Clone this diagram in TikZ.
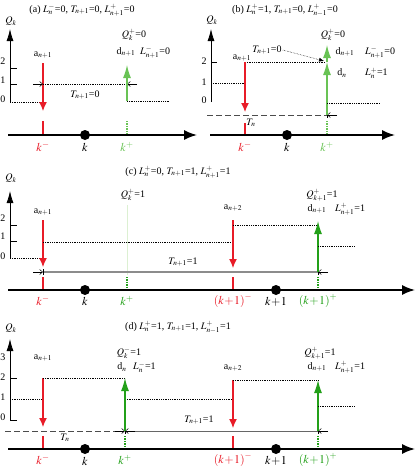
\documentclass[tikz,border=0pt]{standalone}
\usepackage{mathptmx}
\usepackage{fontspec}
\setmainfont{Liberation Serif}
\usetikzlibrary{arrows.meta}
\definecolor{kred}{RGB}{232,28,40}
\definecolor{kgreen}{RGB}{35,160,25}
\definecolor{lgreen}{RGB}{105,195,85}
\definecolor{pgreen}{RGB}{220,240,210}

\begin{document}
\begin{tikzpicture}[x=1pt, y=-1pt, font=\fontsize{10}{11}\selectfont,
  every node/.style={inner sep=1pt},
  qaxis/.style={-{Latex[length=12pt,width=7pt]}, line width=0.8pt},
  tline/.style={-{Latex[length=13pt,width=10pt]}, line width=1.6pt},
  lvl/.style={densely dotted, line width=0.8pt},
  tick/.style={line width=0.8pt},
  arrin/.style={-{Latex[length=9pt,width=8pt]}, line width=1.2pt, kred},
  arrout/.style={-{Latex[length=13pt,width=8pt]}, line width=1.2pt},
  stub/.style={line width=1.4pt, kred},
  gstub/.style={line width=1.4pt, densely dotted},
  barb/.style={-{Straight Barb[length=3pt,width=5pt]}, line width=0.5pt},
  bar/.style={line width=0.6pt},
  tn/.style={dash pattern=on 6pt off 3pt, line width=0.6pt, black!70},
  dot/.style={circle, fill, inner sep=0pt, minimum size=10pt},
  klab/.style={font=\fontsize{12}{13}\selectfont}
]
  \useasboundingbox (0,0) rectangle (415,471);

  \node (ta) at (82,10) {(a) $L^-_n$=0, $T_{n+1}$=0, $L^+_{n+1}$=0};
  \node (qa) at (11,21) {$Q_k$};
  \draw[qaxis] (10,102) -- (10,29);
  \draw[tick] (10,68) -- (17,68) (10,84) -- (17,84);
  \node at (3,61) {2}; \node at (3,80) {1}; \node at (3,99) {0};
  \draw[lvl] (10,102) -- (43,102);
  \draw[arrin] (43,63) -- (43,111);
  \draw[stub] (43,121) -- (43,134);
  \draw[lvl] (43,84) -- (127,84);
  \draw[barb] (33,84) -- (43,84);
  \draw[barb] (137,84) -- (127,84);
  \node (tna) at (85,95) {$T_{n+1}$=0};
  \draw[arrout, lgreen] (127,101) -- (127,65);
  \draw[gstub, lgreen] (127,121) -- (127,135);
  \draw[lvl] (127,101) -- (170,101);
  \draw[tline] (8,135) -- (197,135);
  \node[dot] (ka) at (85,135) {};
  \node (ana) at (43,55) {a$_{n+1}$};
  \node (qpa) at (134,35) {$Q^+_k$=0};
  \node (dna) at (126,52) {d$_{n+1}$};
  \node[anchor=west] (lna) at (139,52) {$L^-_{n+1}$=0};
  \node[klab, kred] at (43,147) {$k^-$};
  \node[klab] at (85,147) {$k$};
  \node[klab, lgreen] at (127,147) {$k^+$};

  \node (tb) at (285,10) {(b) $L^+_n$=1, $T_{n+1}$=0, $L^+_{n-1}$=0};
  \node (qb) at (212,20) {$Q_k$};
  \draw[qaxis] (211,102) -- (211,29);
  \draw[tick] (211,62) -- (217,62);
  \node at (204,61) {2}; \node at (204,82) {1}; \node at (204,100) {0};
  \draw[lvl] (211,83) -- (245,83);
  \draw[lvl] (245,62) -- (325,62);
  \draw[arrin] (245,62) -- (245,112);
  \draw[stub] (245,123) -- (245,135);
  \draw[tn] (207,115) -- (327,115);
  \draw[bar] (327,112) -- (327,118);
  \draw[barb] (337,115) -- (327,115);
  \node (tnb) at (251,123) {$T_n$};
  \draw[arrout, lgreen] (327,115) -- (327,62);
  \draw[arrout, lgreen] (327,62) -- (327,45);
  \draw[gstub, lgreen] (327,121) -- (327,135);
  \draw[lvl] (327,103) -- (380,103);
  \node (tn1b) at (267,50) {$T_{n+1}$=0};
  \coordinate (jb) at (324,61);
  \draw[-{Latex[length=5pt,width=4pt]}, densely dotted, line width=0.5pt] (tn1b.east) -- (jb);
  \draw[tline] (210,135) -- (395,135);
  \node[dot] (kb) at (287,135) {};
  \node (anb) at (242,58) {a$_{n+1}$};
  \node (qpb) at (333,35) {$Q^+_k$=0};
  \node (dnb) at (345,52) {d$_{n+1}$};
  \node[anchor=west] (lnb) at (364,52) {$L^-_{n+1}$=0};
  \node (dmb) at (342,73) {d$_n$};
  \node[anchor=west] (lmb) at (364,73) {$L^+_n$=1};
  \node[klab, kred] at (245,147) {$k^-$};
  \node[klab] at (287,147) {$k$};
  \node[klab, lgreen] at (327,147) {$k^+$};

  \node (tc) at (178,172) {(c) $L^+_n$=0, $T_{n+1}$=1, $L^+_{n+1}$=1};
  \node (qc) at (11,178) {$Q_k$};
  \draw[qaxis] (10,258) -- (10,191);
  \draw[tick] (10,225) -- (17,225) (10,241) -- (17,241);
  \node at (3,218) {2}; \node at (3,236) {1}; \node at (3,256) {0};
  \draw[lvl] (10,258) -- (43,258);
  \draw[arrin] (43,220) -- (43,267);
  \draw[stub] (43,277) -- (43,290);
  \draw[lvl] (43,242) -- (233,242);
  \draw[arrin] (233,220) -- (233,268);
  \draw[stub] (233,277) -- (233,290);
  \draw[lvl] (233,225) -- (318,225);
  \draw[pgreen, line width=0.6pt] (127,205) -- (127,275);
  \draw[gstub, kgreen] (127,277) -- (127,290);
  \draw[black!45, line width=1.6pt] (43,272) -- (318,272);
  \draw[bar] (43,269) -- (43,275) (318,269) -- (318,275);
  \draw[barb] (33,272) -- (43,272);
  \draw[barb] (328,272) -- (318,272);
  \node (tn1c) at (183,262) {$T_{n+1}$=1};
  \draw[arrout, kgreen] (318,272) -- (318,221);
  \draw[gstub, kgreen] (318,277) -- (318,290);
  \draw[lvl] (318,246) -- (355,246);
  \draw[tline] (8,290) -- (415,290);
  \node[dot] (kc) at (85,290) {};
  \node[dot] (k1c) at (276,290) {};
  \node (qpc) at (133,195) {$Q^+_k$=1};
  \node (anc) at (43,212) {a$_{n+1}$};
  \node (an2c) at (233,208) {a$_{n+2}$};
  \node (qp1c) at (322,195) {$Q^+_{k+1}$=1};
  \node (dnc) at (317,209) {d$_{n+1}$};
  \node[anchor=west] (lnc) at (334,209) {$L^+_{n+1}$=1};
  \node[klab, kred] at (43,301) {$k^-$};
  \node[klab] at (85,301) {$k$};
  \node[klab, kgreen] at (127,301) {$k^+$};
  \node[klab, kred] at (233,301) {$(k\!+\!1)^-$};
  \node[klab] at (276,302) {$k\!+\!1$};
  \node[klab, kgreen] at (318,301) {$(k\!+\!1)^+$};

  \node (td) at (178,327) {(d) $L^+_n$=1, $T_{n+1}$=1, $L^+_{n-1}$=1};
  \node (qd) at (11,328) {$Q_k$};
  \draw[qaxis] (10,420) -- (10,339);
  \draw[tick] (10,378) -- (17,378) (10,420) -- (17,420);
  \node at (3,357) {3}; \node at (3,377) {2}; \node at (3,397) {1}; \node at (3,417) {0};
  \draw[lvl] (10,399) -- (43,399);
  \draw[arrin] (43,378) -- (43,427);
  \draw[stub] (43,436) -- (43,449);
  \draw[lvl] (43,378) -- (125,378);
  \draw[lvl] (125,399) -- (233,399);
  \draw[arrin] (233,380) -- (233,428);
  \draw[stub] (233,436) -- (233,449);
  \draw[lvl] (233,380) -- (318,380);
  \draw[tn] (5,431) -- (117,431);
  \draw[barb] (115,431) -- (125,431);
  \draw[black!60, line width=0.8pt] (125,431) -- (318,431);
  \draw[bar] (125,428) -- (125,434) (318,428) -- (318,434);
  \draw[barb] (135,431) -- (125,431);
  \draw[barb] (328,431) -- (318,431);
  \node (tnd) at (65,438) {$T_n$};
  \node (tn1d) at (199,420) {$T_{n+1}$=1};
  \draw[arrout, kgreen] (125,431) -- (125,378);
  \draw[gstub, kgreen] (125,436) -- (125,449);
  \draw[arrout, kgreen] (318,431) -- (318,380);
  \draw[gstub, kgreen] (318,436) -- (318,449);
  \draw[lvl] (318,406) -- (355,406);
  \draw[tline] (8,449) -- (415,449);
  \node[dot] (kd) at (85,449) {};
  \node[dot] (k1d) at (276,449) {};
  \node (and) at (43,358) {a$_{n+1}$};
  \node (qmd) at (129,353) {$Q^-_k$=1};
  \node (dmd) at (122,367) {d$_n$};
  \node[anchor=west] (lmd) at (132,367) {$L^-_n$=1};
  \node (an2d) at (233,368) {a$_{n+2}$};
  \node (qp1d) at (320,353) {$Q^+_{k+1}$=1};
  \node (dnd) at (317,367) {d$_{n+1}$};
  \node[anchor=west] (lnd) at (334,367) {$L^+_{n+1}$=1};
  \node[klab, kred] at (43,460) {$k^-$};
  \node[klab] at (85,461) {$k$};
  \node[klab, kgreen] at (125,460) {$k^+$};
  \node[klab, kred] at (233,460) {$(k\!+\!1)^-$};
  \node[klab] at (276,461) {$k\!+\!1$};
  \node[klab, kgreen] at (318,460) {$(k\!+\!1)^+$};
\end{tikzpicture}
\end{document}
